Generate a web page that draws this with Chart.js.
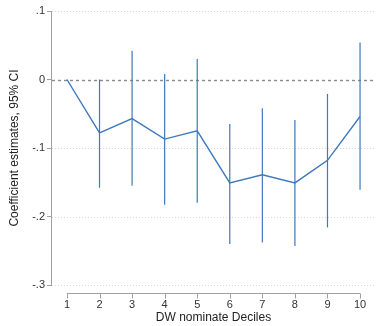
<!DOCTYPE html>
<html><head><meta charset="utf-8">
<script src="https://cdn.jsdelivr.net/npm/chart.js@4"></script>
<style>html,body{margin:0;padding:0;background:#fff}#wrap{width:377px;height:326px}</style>
</head><body><div id="wrap"><canvas id="c" width="377" height="326"></canvas></div>
<script>
const deciles = [1,2,3,4,5,6,7,8,9,10];
const estimates = [0,-0.078,-0.057,-0.087,-0.075,-0.151,-0.139,-0.151,-0.118,-0.054];
const ciLower = [0,-0.158,-0.155,-0.183,-0.180,-0.240,-0.238,-0.243,-0.216,-0.161];
const ciUpper = [0,0.000,0.042,0.008,0.030,-0.065,-0.042,-0.059,-0.021,0.054];
const yTicks = [0.1,0,-0.1,-0.2,-0.3];
const yTickLabels = ['.1','0','-.1','-.2','-.3'];

const blue = '#3e78bd';
const font = "'Liberation Sans', Arial, sans-serif";

const extras = {
  id:'extras',
  beforeDatasetsDraw(chart){
    const {ctx, chartArea:a, scales:{x,y}} = chart;
    ctx.save();
    yTicks.forEach(v=>{
      const py = Math.round(y.getPixelForValue(v))+0.5;
      ctx.beginPath();
      if(v===0){ctx.strokeStyle='#8a8a8a';ctx.setLineDash([3,3]);ctx.lineWidth=1.4;}
      else {ctx.strokeStyle='#d8d8d8';ctx.setLineDash([1,2]);ctx.lineWidth=1;}
      ctx.moveTo(a.left+1,py);ctx.lineTo(a.right,py);ctx.stroke();
    });
    ctx.setLineDash([]);
    // error bars
    ctx.strokeStyle=blue;ctx.lineWidth=1.2;
    deciles.forEach((d,i)=>{
      if(ciLower[i]===ciUpper[i]) return;
      const px=x.getPixelForValue(d);
      ctx.beginPath();ctx.moveTo(px,y.getPixelForValue(ciUpper[i]));ctx.lineTo(px,y.getPixelForValue(ciLower[i]));ctx.stroke();
    });
    // x axis line
    const ay = a.bottom+8.5;
    ctx.strokeStyle='#a0a0a0';ctx.lineWidth=1;
    ctx.beginPath();ctx.moveTo(x.getPixelForValue(deciles[0]),ay);ctx.lineTo(x.getPixelForValue(deciles[deciles.length-1]),ay);ctx.stroke();
    deciles.forEach(d=>{
      const px=Math.round(x.getPixelForValue(d))+0.5;
      ctx.beginPath();ctx.moveTo(px,ay);ctx.lineTo(px,ay+5);ctx.stroke();
    });
    ctx.restore();
  }
};

new Chart(document.getElementById('c'),{
  type:'line',
  data:{datasets:[{data:deciles.map((d,i)=>({x:d,y:estimates[i]})),borderColor:blue,borderWidth:1.4,pointRadius:0,tension:0,fill:false}]},
  options:{
    responsive:false,animation:false,
    layout:{padding:{top:11,right:1,left:0,bottom:0}},
    plugins:{legend:{display:false},tooltip:{enabled:false}},
    scales:{
      x:{type:'linear',min:0.51,max:10.49,
        afterFit(s){s.height=41;},
        grid:{display:false},border:{display:false},
        afterBuildTicks(s){s.ticks=deciles.map(v=>({value:v}));},
        ticks:{padding:5,color:'#333',font:{family:font,size:11},callback:v=>String(v)},
        title:{display:true,text:'DW nominate Deciles',color:'#222',font:{family:font,size:12},padding:{top:0,bottom:1}}
      },
      y:{min:-0.3,max:0.1,
        afterFit(s){s.width=51;},
        afterBuildTicks(s){s.ticks=yTicks.map(v=>({value:v}));},
        grid:{display:true,drawOnChartArea:false,drawTicks:true,tickLength:4,color:'#a0a0a0'},
        border:{display:true,color:'#a0a0a0',width:1},
        ticks:{padding:2,color:'#333',font:{family:font,size:11},callback:(v)=>{const i=yTicks.findIndex(t=>Math.abs(t-v)<1e-9);return i>=0?yTickLabels[i]:'';}},
        title:{display:true,text:'Coefficient estimates, 95% CI',color:'#222',font:{family:font,size:12},padding:{top:7,bottom:4}}
      }
    }
  },
  plugins:[extras]
});
</script></body></html>
